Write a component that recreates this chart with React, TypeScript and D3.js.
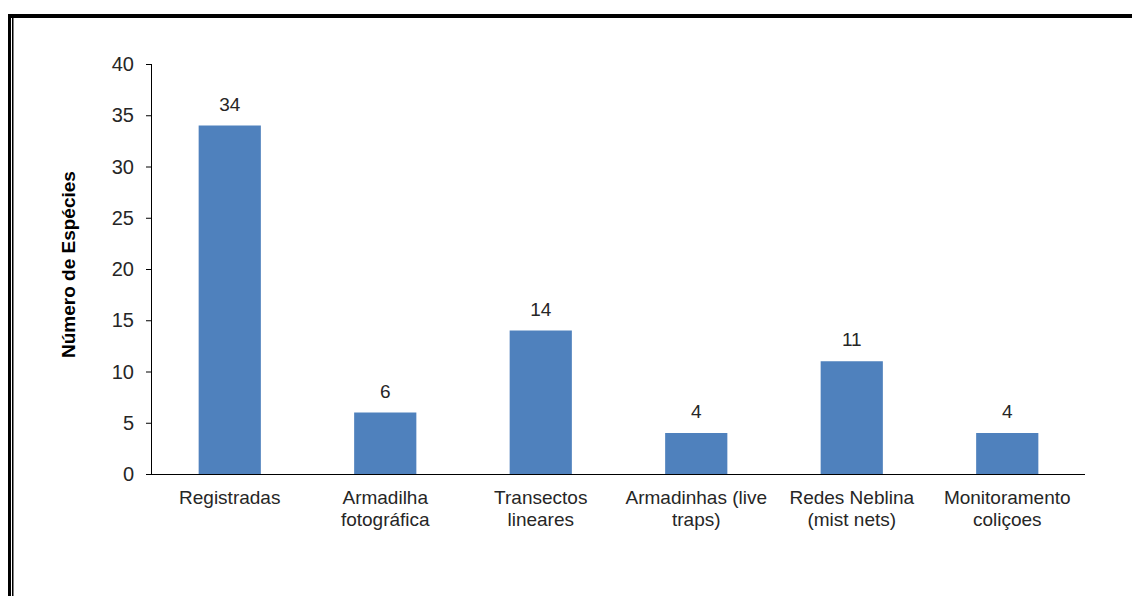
import React from "react";
import * as d3 from "d3";

const categories: string[][] = [
  ["Registradas"],
  ["Armadilha", "fotográfica"],
  ["Transectos", "lineares"],
  ["Armadinhas (live", "traps)"],
  ["Redes Neblina", "(mist nets)"],
  ["Monitoramento", "coliçoes"],
];
const values: number[] = [34, 6, 14, 4, 11, 4];
const yTicks: number[] = [0, 5, 10, 15, 20, 25, 30, 35, 40];
const yTitle = "Número de Espécies";

const W = 1132;
const H = 596;
const FONT = "'Liberation Sans', Arial, sans-serif";

export default function App() {
  const left = 152;
  const right = 1085;
  const top = 64;
  const bottom = 474;
  const x = d3
    .scaleBand<number>()
    .domain(values.map((_, i) => i))
    .range([left, right])
    .paddingInner(0.6)
    .paddingOuter(0.3);
  const y = d3.scaleLinear().domain([0, 40]).range([bottom, top]);

  return (
    <svg
      width={W}
      height={H}
      style={{ position: "absolute", left: 0, top: 0, display: "block", background: "#fff" }}
      fontFamily={FONT}
    >
      <rect x={0} y={0} width={W} height={H} fill="#fff" />
      {/* frame */}
      <rect x={8} y={14} width={W - 8} height={4} fill="#000" />
      <rect x={8} y={14} width={3} height={H - 14} fill="#000" />
      <rect x={12} y={18} width={1.5} height={H - 18} fill="#000" />

      {/* bars */}
      {values.map((v, i) => (
        <rect
          key={"b" + i}
          x={x(i)!}
          y={y(v)}
          width={x.bandwidth()}
          height={y(0) - y(v)}
          fill="#4f81bd"
        />
      ))}
      {/* value labels */}
      {values.map((v, i) => (
        <text
          key={"v" + i}
          x={x(i)! + x.bandwidth() / 2}
          y={y(v) - 15}
          textAnchor="middle"
          fontSize={19}
          fill="#262626"
        >
          {v}
        </text>
      ))}

      {/* y axis */}
      <line x1={left - 0.5} x2={left - 0.5} y1={top} y2={bottom} stroke="#000" strokeWidth={1} />
      {yTicks.map((t) => (
        <g key={"t" + t}>
          <line x1={left - 6} x2={left} y1={y(t) + 0.5} y2={y(t) + 0.5} stroke="#000" strokeWidth={1} />
          <text x={left - 18} y={y(t) + 7} textAnchor="end" fontSize={20} fill="#262626">
            {t}
          </text>
        </g>
      ))}
      {/* x axis */}
      <line x1={left - 6} x2={right} y1={bottom + 0.5} y2={bottom + 0.5} stroke="#000" strokeWidth={1} />

      {/* category labels */}
      {categories.map((lines, i) => (
        <text
          key={"c" + i}
          x={x(i)! + x.bandwidth() / 2}
          y={504}
          textAnchor="middle"
          fontSize={19}
          fill="#262626"
        >
          {lines.map((l, j) => (
            <tspan key={j} x={x(i)! + x.bandwidth() / 2} dy={j === 0 ? 0 : 22}>
              {l}
            </tspan>
          ))}
        </text>
      ))}

      {/* y title */}
      <text
        transform={`translate(75, 358) rotate(-90)`}
        textAnchor="start"
        fontSize={19}
        fontWeight="bold"
        fill="#000"
      >
        {yTitle}
      </text>
    </svg>
  );
}
